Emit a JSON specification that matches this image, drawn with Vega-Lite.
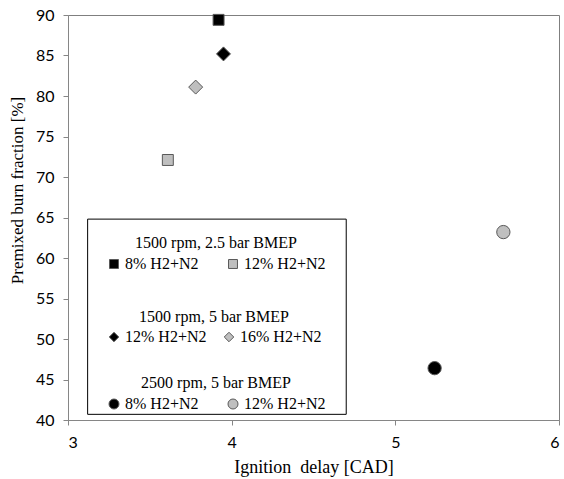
{
  "$schema": "https://vega.github.io/schema/vega-lite/v6.json",
  "width": 491,
  "height": 405,
  "autosize": {"type": "none"},
  "padding": {"left": 68, "top": 15, "right": 5, "bottom": 59},
  "background": "white",
  "config": {
    "view": {"stroke": "#7f7f7f", "strokeWidth": 1},
    "font": "Liberation Serif",
    "axis": {
      "grid": false,
      "domainColor": "#868686",
      "tickColor": "#868686",
      "tickSize": 5,
      "labelFont": "Lato",
      "labelFontSize": 16,
      "labelColor": "#000000",
      "titleFont": "Liberation Serif",
      "titleFontSize": 17,
      "titleFontWeight": "normal",
      "titleColor": "#000000"
    },
    "legend": {
      "titleFont": "Liberation Serif",
      "titleFontSize": 16,
      "titleFontWeight": "normal",
      "titleColor": "#000000",
      "labelFont": "Liberation Serif",
      "labelFontSize": 16,
      "labelColor": "#000000"
    }
  },
  "datasets": {
    "pts": [
      {"group": "1500 rpm, 2.5 bar BMEP", "series": "8% H2+N2", "delay": 3.92, "pbf": 89.4},
      {"group": "1500 rpm, 2.5 bar BMEP", "series": "12% H2+N2", "delay": 3.61, "pbf": 72.1},
      {"group": "1500 rpm, 5 bar BMEP", "series": "12% H2+N2", "delay": 3.95, "pbf": 85.2},
      {"group": "1500 rpm, 5 bar BMEP", "series": "16% H2+N2", "delay": 3.78, "pbf": 81.1},
      {"group": "2500 rpm, 5 bar BMEP", "series": "8% H2+N2", "delay": 5.24, "pbf": 46.4},
      {"group": "2500 rpm, 5 bar BMEP", "series": "12% H2+N2", "delay": 5.66, "pbf": 63.2}
    ]
  },
  "layer": [
    {
      "data": {"values": [{}]},
      "mark": {"type": "rect", "fill": "white", "stroke": "#000000", "strokeWidth": 1},
      "encoding": {
        "x": {"datum": 3.12, "type": "quantitative"},
        "x2": {"datum": 4.7},
        "y": {"datum": 40.7, "type": "quantitative"},
        "y2": {"datum": 64.8}
      }
    },
    {
      "data": {"name": "pts"},
      "transform": [{"filter": "datum.group === '1500 rpm, 2.5 bar BMEP'"}],
      "mark": {"type": "point", "shape": "square", "filled": true, "size": 120, "stroke": "#595959", "strokeWidth": 1, "opacity": 1},
      "encoding": {
        "x": {"field": "delay", "type": "quantitative", "scale": {"domain": [3, 6], "nice": false, "zero": false}, "axis": {"values": [3, 4, 5, 6], "format": "d", "title": "Ignition\u00a0\u00a0delay\u00a0[CAD]", "titleFontSize": 18, "labelPadding": 9, "titlePadding": 8}},
        "y": {"field": "pbf", "type": "quantitative", "scale": {"domain": [40, 90], "nice": false, "zero": false}, "axis": {"values": [40, 45, 50, 55, 60, 65, 70, 75, 80, 85, 90], "format": "d", "title": "Premixed burn fraction [%]", "labelPadding": 9, "titleX": -42, "titleY": 175}},
        "color": {
          "field": "series", "type": "nominal",
          "scale": {"domain": ["8% H2+N2", "12% H2+N2"], "range": ["#000000", "#bfbfbf"]},
          "legend": {"title": "1500 rpm, 2.5 bar BMEP", "orient": "none", "legendX": 38, "legendY": 220, "columns": 2, "columnPadding": 26, "titleAnchor": "middle", "titlePadding": 5, "padding": 0, "symbolSize": 80, "symbolType": "square", "symbolStrokeColor": "#595959", "symbolStrokeWidth": 1, "labelOffset": 3, "symbolOpacity": 1}
        }
      }
    },
    {
      "data": {"name": "pts"},
      "transform": [{"filter": "datum.group === '1500 rpm, 5 bar BMEP'"}],
      "mark": {"type": "point", "shape": "diamond", "filled": true, "size": 196, "stroke": "#595959", "strokeWidth": 1, "opacity": 1},
      "encoding": {
        "x": {"field": "delay", "type": "quantitative"},
        "y": {"field": "pbf", "type": "quantitative"},
        "color": {
          "field": "series", "type": "nominal",
          "scale": {"domain": ["12% H2+N2", "16% H2+N2"], "range": ["#000000", "#bfbfbf"]},
          "legend": {"title": "1500 rpm, 5 bar BMEP", "orient": "none", "legendX": 38, "legendY": 294, "columns": 2, "columnPadding": 14, "titleAnchor": "middle", "titlePadding": 4, "padding": 0, "symbolSize": 90, "symbolType": "diamond", "symbolStrokeColor": "#595959", "symbolStrokeWidth": 1, "labelOffset": 3, "symbolOpacity": 1}
        }
      }
    },
    {
      "data": {"name": "pts"},
      "transform": [{"filter": "datum.group === '2500 rpm, 5 bar BMEP'"}],
      "mark": {"type": "point", "shape": "circle", "filled": true, "size": 177, "stroke": "#595959", "strokeWidth": 1, "opacity": 1},
      "encoding": {
        "x": {"field": "delay", "type": "quantitative"},
        "y": {"field": "pbf", "type": "quantitative"},
        "color": {
          "field": "series", "type": "nominal",
          "scale": {"domain": ["8% H2+N2", "12% H2+N2"], "range": ["#000000", "#bfbfbf"]},
          "legend": {"title": "2500 rpm, 5 bar BMEP", "orient": "none", "legendX": 38, "legendY": 360, "columns": 2, "columnPadding": 26, "titleAnchor": "middle", "titlePadding": 5, "padding": 0, "symbolSize": 100, "symbolType": "circle", "symbolStrokeColor": "#595959", "symbolStrokeWidth": 1, "labelOffset": 3, "symbolOpacity": 1}
        }
      }
    }
  ],
  "resolve": {"scale": {"color": "independent"}, "legend": {"color": "independent"}}
}
